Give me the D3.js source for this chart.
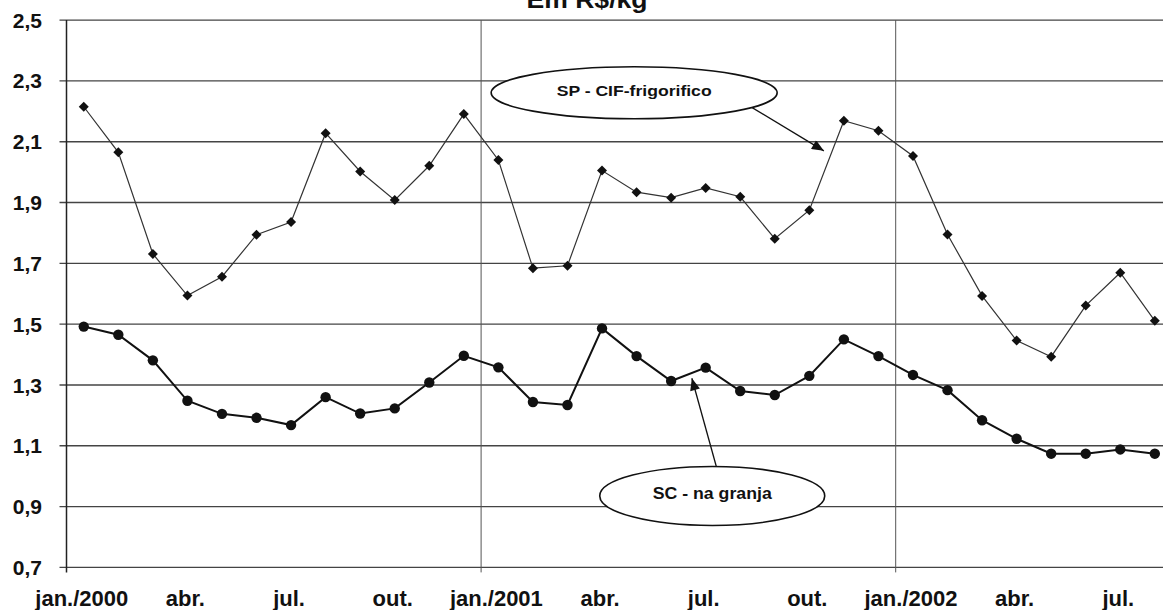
<!DOCTYPE html>
<html>
<head>
<meta charset="utf-8">
<script src="https://cdn.jsdelivr.net/npm/d3@7"></script>
<style>
    body { margin: 0; background: white; }
    text { font-family: 'Liberation Sans', Arial, sans-serif; font-weight: bold; fill: #111; }
</style>
</head>
<body>
<svg id="chart"></svg>
<script>
// months jan/2000 .. ago/2002
const monthNames = ['jan.', 'fev.', 'mar.', 'abr.', 'mai.', 'jun.', 'jul.', 'ago.', 'set.', 'out.', 'nov.', 'dez.'];
const years = [2000, 2001, 2002];
const nMonths = 32;

// R$/kg
const spValues = [
    2.215, 2.065, 1.731, 1.594, 1.656, 1.794, 1.836, 2.128, 2.002, 1.908, 2.021, 2.191,
    2.040, 1.684, 1.692, 2.005, 1.934, 1.916, 1.948, 1.919, 1.781, 1.875, 2.169, 2.136,
    2.053, 1.795, 1.593, 1.446, 1.393, 1.561, 1.669, 1.511,
];
const scValues = [
    1.492, 1.465, 1.381, 1.248, 1.205, 1.192, 1.168, 1.260, 1.206, 1.223, 1.308, 1.396,
    1.358, 1.244, 1.234, 1.486, 1.395, 1.313, 1.357, 1.280, 1.267, 1.330, 1.450, 1.395,
    1.333, 1.283, 1.184, 1.123, 1.074, 1.074, 1.088, 1.074,
];
const yTicks = [0.7, 0.9, 1.1, 1.3, 1.5, 1.7, 1.9, 2.1, 2.3, 2.5];
const title = 'Em R$/kg';

// callouts: label, ellipse centre, arrow start, arrow tip (month index, value)
const callouts = [
    { label: 'SP - CIF-frigorifico', cx: 15.93, cy: 2.261, x1: 18.79, y1: 2.25, x2: 21.42, y2: 2.07 },
    { label: 'SC - na granja', cx: 18.19, cy: 0.935, x1: 18.32, y1: 1.027, x2: 17.6, y2: 1.322 },
];

const months = d3.range(nMonths);
const labels = months.map(i => {
    const m = monthNames[i % 12];
    return i % 12 === 0 ? `${m}/${years[Math.floor(i / 12)]}` : m;
});

const width = 1163;
const height = 610;
const margin = { top: 20.1, left: 66.5, bottom: 42.6 };
const band = 34.55;

const svg = d3.select('#chart')
    .attr('width', width)
    .attr('height', height)
    .style('background-color', 'white');

const x = d3.scaleBand()
    .domain(months)
    .range([margin.left, margin.left + band * nMonths]);
const xc = i => x(i) + x.bandwidth() / 2;
// fractional month index, for the callouts
const xf = i => margin.left + x.step() * (i + 0.5);

const y = d3.scaleLinear()
    .domain([0.7, 2.5])
    .range([height - margin.bottom, margin.top]);

// horizontal gridlines
svg.append('g')
    .selectAll('line')
    .data(yTicks)
    .join('line')
    .attr('x1', margin.left - 7)
    .attr('x2', width)
    .attr('y1', d => y(d))
    .attr('y2', d => y(d))
    .attr('stroke', '#444')
    .attr('stroke-width', 1.4);

// vertical gridlines at year boundaries
const yearStarts = months.filter(i => i % 12 === 0);
svg.append('g')
    .selectAll('line')
    .data(yearStarts)
    .join('line')
    .attr('x1', d => x(d))
    .attr('x2', d => x(d))
    .attr('y1', y(2.5))
    .attr('y2', y(0.7) + 5)
    .attr('stroke', d => (d === 0 ? '#222' : '#555'))
    .attr('stroke-width', d => (d === 0 ? 1.5 : 1));

// y labels
svg.append('g')
    .selectAll('text')
    .data(yTicks)
    .join('text')
    .attr('x', 42)
    .attr('y', d => y(d))
    .attr('dy', '0.36em')
    .attr('text-anchor', 'end')
    .style('font-size', '21px')
    .text(d => d3.format('.1f')(d).replace('.', ','));

// x labels, every third month
svg.append('g')
    .selectAll('text')
    .data(months.filter(i => i % 3 === 0))
    .join('text')
    .attr('x', d => xc(d) - 2)
    .attr('y', 606)
    .attr('text-anchor', 'middle')
    .style('font-size', '22px')
    .text(d => labels[d]);

svg.append('text')
    .attr('x', 587)
    .attr('y', 8)
    .attr('text-anchor', 'middle')
    .attr('textLength', 121)
    .attr('lengthAdjust', 'spacingAndGlyphs')
    .style('font-size', '24px')
    .text(title);

const line = d3.line()
    .x((d, i) => xc(i))
    .y(d => y(d));

// SP series: thin line, diamonds
svg.append('path')
    .datum(spValues)
    .attr('d', line)
    .attr('fill', 'none')
    .attr('stroke', '#333')
    .attr('stroke-width', 1.2);

svg.append('g')
    .selectAll('path')
    .data(spValues)
    .join('path')
    .attr('d', d3.symbol(d3.symbolSquare, 50))
    .attr('transform', (d, i) => `translate(${xc(i)},${y(d)}) rotate(45)`)
    .attr('fill', '#111');

// SC series: thicker line, circles
svg.append('path')
    .datum(scValues)
    .attr('d', line)
    .attr('fill', 'none')
    .attr('stroke', '#111')
    .attr('stroke-width', 2);

svg.append('g')
    .selectAll('circle')
    .data(scValues)
    .join('circle')
    .attr('cx', (d, i) => xc(i))
    .attr('cy', d => y(d))
    .attr('r', 5.2)
    .attr('fill', '#111');

// callouts
svg.append('defs')
    .append('marker')
    .attr('id', 'arrow')
    .attr('viewBox', '0 0 12 10')
    .attr('refX', 12)
    .attr('refY', 5)
    .attr('markerWidth', 13)
    .attr('markerHeight', 10)
    .attr('markerUnits', 'userSpaceOnUse')
    .attr('orient', 'auto')
    .append('path')
    .attr('d', 'M0,0L12,5L0,10Z')
    .attr('fill', '#111');

const ry = [26, 29.5];
const rx = [143, 112.5];
const fs = [14, 16];
const tl = [155, 119];

callouts.forEach((c, k) => {
    svg.append('line')
        .attr('x1', xf(c.x1))
        .attr('y1', y(c.y1))
        .attr('x2', xf(c.x2))
        .attr('y2', y(c.y2))
        .attr('stroke', '#111')
        .attr('stroke-width', 1.3)
        .attr('marker-end', 'url(#arrow)');
    svg.append('ellipse')
        .attr('cx', xf(c.cx))
        .attr('cy', y(c.cy))
        .attr('rx', rx[k])
        .attr('ry', ry[k])
        .attr('fill', 'white')
        .attr('stroke', '#111')
        .attr('stroke-width', 1.6);
    svg.append('text')
        .attr('x', xf(c.cx))
        .attr('y', y(c.cy) + (k === 0 ? -2 : -3))
        .attr('dy', '0.36em')
        .attr('text-anchor', 'middle')
        .attr('textLength', tl[k])
        .attr('lengthAdjust', 'spacingAndGlyphs')
        .style('font-size', fs[k] + 'px')
        .text(c.label);
});
</script>
</body>
</html>
